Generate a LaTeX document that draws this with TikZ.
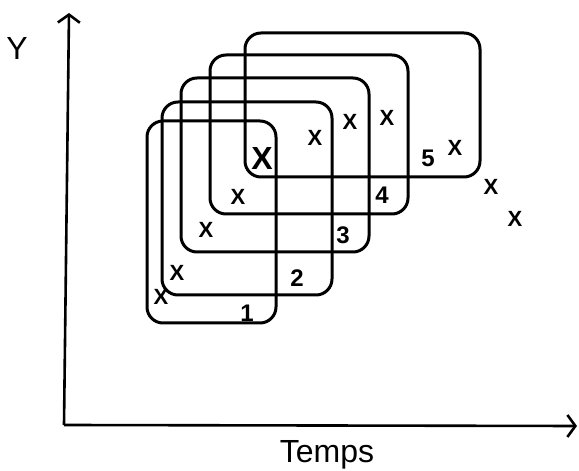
\documentclass[tikz,border=0pt]{standalone}
\usepackage{fontspec}
\setsansfont{Liberation Sans}
\usetikzlibrary{arrows.meta}

\begin{document}
\begin{tikzpicture}[
    x=1pt, y=1pt,
    winBox/.style={
        rectangle, rounded corners=16pt,
        draw=black, line width=3pt,
        inner sep=0pt
    },
    winNum/.style={
        font=\fontsize{24}{26}\selectfont\sffamily\bfseries, inner sep=0pt
    },
    ptMark/.style={
        font=\fontsize{22}{24}\selectfont\sffamily\bfseries, inner sep=0pt
    },
    axisLine/.style={
        line width=2.6pt, -{Straight Barb[length=8pt, width=22pt, line width=2.6pt]}
    },
    axisLabel/.style={
        font=\fontsize{32}{36}\selectfont\sffamily, inner sep=0pt, anchor=base
    }
]
\useasboundingbox (0,0) rectangle (579,471);

    % Axes
    \coordinate (orig) at (64,46);
    \coordinate (yTop) at (69,458);
    \coordinate (xEnd) at (577,45);
    \draw[axisLine] (orig) -- (yTop);
    \draw[axisLine] (orig) -- (xEnd);
    \node[axisLabel] (yLabel) at (17,411) {Y};
    \node[axisLabel] (tLabel) at (327,8) {Temps};

    % Windows
    \node[winBox, minimum width=129pt, minimum height=202pt] (win1) at (211.5,249) {};
    \node[winBox, minimum width=170pt, minimum height=193pt] (win2) at (247,272.5) {};
    \node[winBox, minimum width=188pt, minimum height=174pt] (win3) at (275,306) {};
    \node[winBox, minimum width=198pt, minimum height=159pt] (win4) at (309,336.5) {};
    \node[winBox, minimum width=235pt, minimum height=144pt] (win5) at (362.5,366) {};

    % Window numbers
    \node[winNum] (num1) at (247,158) {1};
    \node[winNum] (num2) at (297,193) {2};
    \node[winNum] (num3) at (343,236) {3};
    \node[winNum] (num4) at (382,276) {4};
    \node[winNum] (num5) at (428,313) {5};

    % Points
    \node[ptMark] (p1) at (161,174) {X};
    \node[ptMark] (p2) at (177,198) {X};
    \node[ptMark] (p3) at (206,241) {X};
    \node[ptMark] (p4) at (238,274) {X};
    \node[ptMark, font=\fontsize{32}{34}\selectfont\sffamily\bfseries] (p5) at (262,313) {X};
    \node[ptMark] (p6) at (315,333) {X};
    \node[ptMark] (p7) at (350,349) {X};
    \node[ptMark] (p8) at (387,353) {X};
    \node[ptMark] (p9) at (455,323) {X};
    \node[ptMark] (p10) at (491,284) {X};
    \node[ptMark] (p11) at (515,252) {X};

\end{tikzpicture}
\end{document}
